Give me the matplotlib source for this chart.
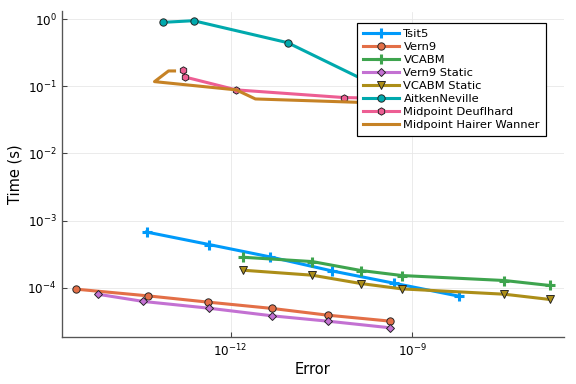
import numpy as np
import matplotlib
matplotlib.use("Agg")
import matplotlib.pyplot as plt

# log10 values
tsit5_x = [-13.386, -12.351, -11.345, -10.328, -9.305, -8.233]
tsit5_y = [-3.171, -3.358, -3.542, -3.750, -3.933, -4.126]

vern9_x = [-14.546, -13.358, -12.368, -11.312, -10.399, -9.365]
vern9_y = [-4.022, -4.122, -4.215, -4.309, -4.409, -4.498]

vcabm_x = [-11.79, -10.652, -9.85, -9.173, -7.483, -6.736]
vcabm_y = [-3.547, -3.611, -3.744, -3.819, -3.893, -3.967]

vern9s_x = [-14.19, -13.436, -12.358, -11.312, -10.399, -9.365]
vern9s_y = [-4.097, -4.205, -4.305, -4.419, -4.498, -4.597]

vcabms_x = [-11.79, -10.652, -9.85, -9.173, -7.483, -6.736]
vcabms_y = [-3.74, -3.814, -3.938, -4.018, -4.097, -4.175]

aitken_x = [-13.106, -12.611, -11.059, -9.2, -8.4]
aitken_y = [-0.049, -0.025, -0.352, -1.17, -1.35]

deuf_x = [-12.787, -12.759, -11.906, -10.135, -9.0, -8.2]
deuf_y = [-0.753, -0.862, -1.055, -1.169, -1.19, -1.22]

hw_x = [-12.924, -13.023, -13.254, -11.906, -11.59, -9.9, -8.9, -8.0]
hw_y = [-0.773, -0.773, -0.932, -1.055, -1.19, -1.24, -1.27, -1.30]

labels = ["Tsit5", "Vern9", "VCABM", "Vern9 Static", "VCABM Static",
          "AitkenNeville", "Midpoint Deuflhard", "Midpoint Hairer Wanner"]
colors = ["#009AFA", "#E36F47", "#3EA44E", "#C371D2", "#AC8E18",
          "#00A9AD", "#ED5E93", "#C68225"]
markers = ["P", "o", "P", "D", "v", "o", "h", None]

series = [(tsit5_x, tsit5_y), (vern9_x, vern9_y), (vcabm_x, vcabm_y),
          (vern9s_x, vern9s_y), (vcabms_x, vcabms_y), (aitken_x, aitken_y),
          (deuf_x, deuf_y), (hw_x, hw_y)]

fig = plt.figure(figsize=(6, 4), dpi=96)
ax = fig.add_axes([62/576, 1-337/384, (564-62)/576, (337-11.5)/384])

for (xs, ys), lab, c, m in zip(series, labels, colors, markers):
    x = 10.0 ** np.array(xs)
    y = 10.0 ** np.array(ys)
    if m == "P":
        ax.plot(x, y, color=c, lw=2.3, marker="+", ms=7, mew=2.3, label=lab)
    elif m is None:
        ax.plot(x, y, color=c, lw=2.3, label=lab)
    else:
        ms = 5.5
        if m == "D":
            ms = 4.5
        if m == "v":
            ms = 6
        ax.plot(x, y, color=c, lw=2.3, marker=m, ms=ms, mec="#222222",
                mew=0.7, mfc=c, label=lab)

ax.set_xscale("log")
ax.set_yscale("log")
ax.set_xlim(10**-14.78, 10**-6.50)
ax.set_ylim(10**-4.734, 10**0.112)

ax.set_xticks([1e-12, 1e-9])
ax.set_yticks([1e0, 1e-1, 1e-2, 1e-3, 1e-4])
ax.minorticks_off()
ax.tick_params(direction="in", length=4, width=0.8, color="#444444",
               labelsize=9, pad=4)
ax.grid(True, color="#e6e6e6", lw=0.6)
ax.set_axisbelow(True)
for s in ["top", "right"]:
    ax.spines[s].set_visible(False)
for s in ["left", "bottom"]:
    ax.spines[s].set_color("#555555")
    ax.spines[s].set_linewidth(1.0)

ax.set_xlabel("Error", fontsize=11, labelpad=2)
ax.set_ylabel("Time (s)", fontsize=11, labelpad=4)

leg = ax.legend(loc="upper left", bbox_to_anchor=(357/576, 1-22.7/384),
                bbox_transform=fig.transFigure, borderaxespad=0,
                fontsize=8.6, labelspacing=0.26, handlelength=3.1,
                handletextpad=0.4, borderpad=0.55, fancybox=False,
                framealpha=1, facecolor="white", edgecolor="black")
leg.get_frame().set_linewidth(0.9)
leg.set_zorder(20)

fig.savefig("out.png", dpi=96)
